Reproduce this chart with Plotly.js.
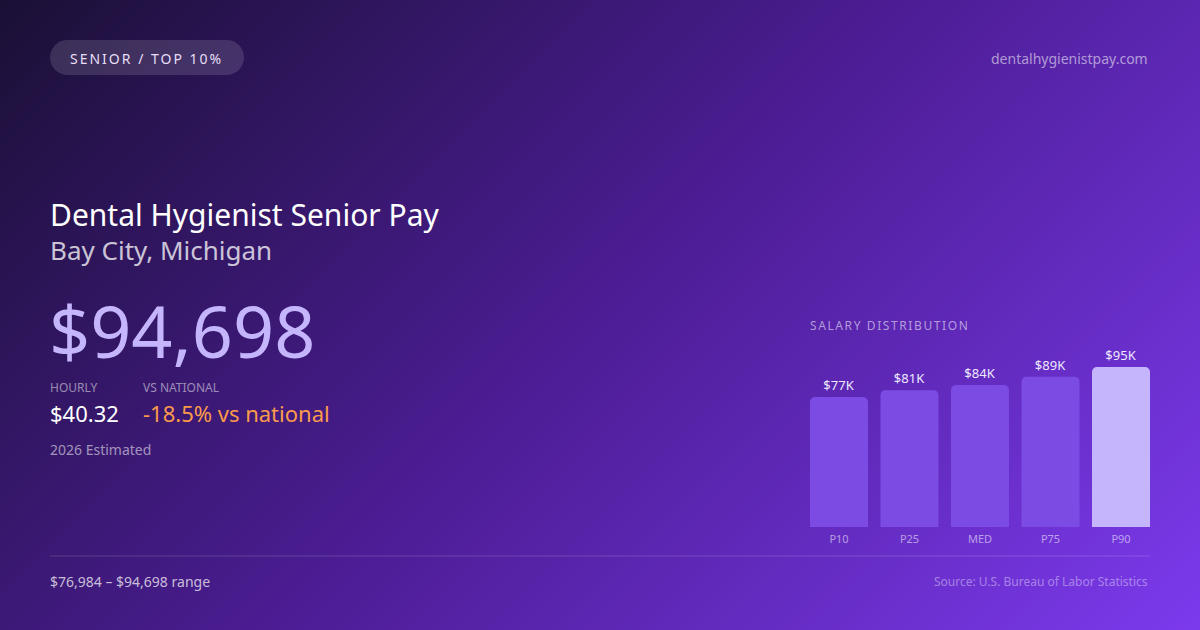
<!DOCTYPE html>
<html>
<head>
<meta charset="utf-8">
<script src="https://cdn.plot.ly/plotly-3.0.1.min.js"></script>
<style>
  html, body { margin: 0; padding: 0; }
  #card {
    width: 1200px;
    height: 630px;
    background: linear-gradient(135deg, #1a1035 0%, #4c1d95 50%, #7c3aed 100%);
  }
</style>
</head>
<body>
<div id="card"></div>
<script>
// salary percentiles (annual, USD)
const categories = ['P10', 'P25', 'MED', 'P75', 'P90'];
const salaries = [76984, 81000, 84000, 89000, 94698];
const barColors = ['#7b4be3', '#7b4be3', '#7b4be3', '#7b4be3', '#c4b5fd'];

const badge = 'SENIOR / TOP 10%';
const site = 'dentalhygienistpay.com';
const title = 'Dental Hygienist Senior Pay';
const place = 'Bay City, Michigan';
const headline = '$94,698';
const hourly = '$40.32';
const vsNational = '-18.5% vs national';
const yearNote = '2026 Estimated';
const source = 'Source: U.S. Bureau of Labor Statistics';

const W = 1200, H = 630;
const px = x => x / W;
const py = y => 1 - y / H;

function fmtK(v) {
  return '$' + Math.round(v / 1000) + 'K';
}
function fmtUsd(v) {
  return '$' + v.toLocaleString('en-US');
}

// rounded pill outline in paper coords
function pill(x0, y0, x1, y1) {
  const r = (y1 - y0) / 2;
  const k = r * 0.5523;
  const pts = [
    'M', px(x0 + r), py(y0),
    'L', px(x1 - r), py(y0),
    'C', px(x1 - r + k), py(y0), px(x1), py(y0 + r - k), px(x1), py(y0 + r),
    'C', px(x1), py(y0 + r + k), px(x1 - r + k), py(y1), px(x1 - r), py(y1),
    'L', px(x0 + r), py(y1),
    'C', px(x0 + r - k), py(y1), px(x0), py(y0 + r + k), px(x0), py(y0 + r),
    'C', px(x0), py(y0 + r - k), px(x0 + r - k), py(y0), px(x0 + r), py(y0),
    'Z'
  ];
  return pts.join(' ');
}

function note(text, x, y, size, color, anchor) {
  anchor = anchor || 'left';
  return {
    text: text,
    xref: 'paper', yref: 'paper',
    x: px(x), y: py(y),
    xanchor: anchor, yanchor: 'middle',
    align: anchor,
    showarrow: false,
    font: {family: 'Noto Sans', size: size, color: color}
  };
}

const trace = {
  type: 'bar',
  x: categories,
  y: salaries,
  text: salaries.map(fmtK),
  textposition: 'outside',
  textfont: {family: 'Noto Sans', size: 13, color: '#ede9fe'},
  cliponaxis: false,
  marker: {color: barColors, cornerradius: 5, line: {width: 0}},
  hoverinfo: 'none'
};

const layout = {
  width: W,
  height: H,
  margin: {l: 0, r: 0, t: 0, b: 0},
  paper_bgcolor: 'rgba(0,0,0,0)',
  plot_bgcolor: 'rgba(0,0,0,0)',
  font: {family: 'Noto Sans', color: '#ffffff'},
  showlegend: false,
  bargap: 0.177,
  xaxis: {
    type: 'category',
    domain: [px(803.75), px(1156.25)],
    showgrid: false,
    zeroline: false,
    showline: false,
    ticks: '',
    ticklabelstandoff: 4,
    tickfont: {family: 'Noto Sans', size: 11, color: 'rgba(255,255,255,0.55)'},
    fixedrange: true
  },
  yaxis: {
    visible: false,
    range: [0, Math.max(...salaries)],
    domain: [py(527), py(367)],
    fixedrange: true
  },
  shapes: [
    {
      type: 'path', xref: 'paper', yref: 'paper',
      path: pill(50, 40, 244, 75),
      fillcolor: 'rgba(255,255,255,0.13)',
      line: {width: 0}
    },
    {
      type: 'line', xref: 'paper', yref: 'paper',
      x0: px(50), x1: px(1150), y0: py(556), y1: py(556),
      line: {color: 'rgba(255,255,255,0.16)', width: 1}
    }
  ],
  annotations: [
    note(badge, 68, 58, 14, '#e6def7'),
    note(site, 1150, 58, 14, 'rgba(255,255,255,0.55)', 'right'),
    note(title, 48, 214, 30, '#ffffff'),
    note(place, 48, 250, 26, 'rgba(255,255,255,0.75)'),
    note(headline, 47, 330, 72, '#c4b5fd'),
    note('HOURLY', 48, 387, 12, 'rgba(255,255,255,0.5)'),
    note('VS NATIONAL', 141, 387, 12, 'rgba(255,255,255,0.5)'),
    note(hourly, 48, 413, 22, '#ffffff'),
    note(vsNational, 141, 413, 22, '#fb9a4b'),
    note(yearNote, 48, 449, 14, 'rgba(255,255,255,0.55)'),
    note('SALARY DISTRIBUTION', 808, 325, 12, 'rgba(255,255,255,0.55)'),
    note(fmtUsd(Math.min(...salaries)) + ' \u2013 ' + fmtUsd(Math.max(...salaries)) + ' range',
         48, 581, 14, 'rgba(255,255,255,0.72)'),
    note(source, 1150, 581, 12, 'rgba(255,255,255,0.4)', 'right')
  ]
};

const spaced = {};
spaced[badge] = '2px';
spaced['SALARY DISTRIBUTION'] = '1.6px';

Plotly.newPlot('card', [trace], layout, {staticPlot: true}).then(gd => {
  gd.querySelectorAll('.annotation-text').forEach(t => {
    if (spaced[t.textContent]) t.style.letterSpacing = spaced[t.textContent];
  });
});
</script>
</body>
</html>
